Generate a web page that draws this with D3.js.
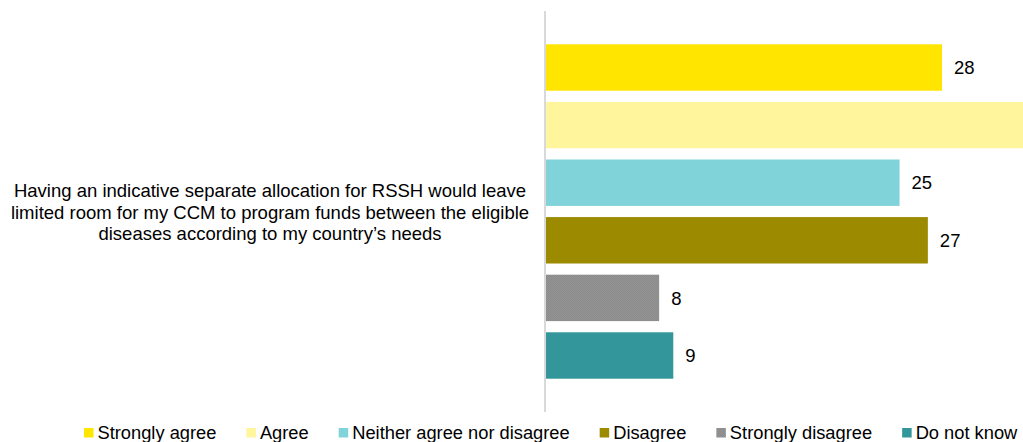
<!DOCTYPE html>
<html>
<head>
<meta charset="utf-8">
<script src="https://cdn.jsdelivr.net/npm/d3@7"></script>
<style>
  html, body { margin: 0; padding: 0; background: #ffffff; }
  svg { display: block; font-family: "Liberation Sans", Arial, sans-serif; }
</style>
</head>
<body>
<svg id="chart" width="1023" height="442"></svg>
<script>
// Survey responses for the single statement, one bar per answer
const categories = ["Strongly agree", "Agree", "Neither agree nor disagree", "Disagree", "Strongly disagree", "Do not know"];
const values = [28, 36, 25, 27, 8, 9];
const colors = ["#ffe500", "#fff59d", "#80d3d8", "#9c8a00", "#8e8e8e", "#33969a"];
const questionLines = [
  "Having an indicative separate allocation for RSSH would leave",
  "limited room for my CCM to program funds between the eligible",
  "diseases according to my country\u2019s needs"
];

const svg = d3.select("#chart");
const W = 1023, H = 442;

// Fine dotted texture for the "Strongly disagree" fill
const defs = svg.append("defs");
const pat = defs.append("pattern")
  .attr("id", "dots").attr("width", 2).attr("height", 2)
  .attr("patternUnits", "userSpaceOnUse");
pat.append("rect").attr("width", 2).attr("height", 2).attr("fill", "#959595");
pat.append("rect").attr("width", 1).attr("height", 1).attr("fill", "#8a8a8a");
pat.append("rect").attr("x", 1).attr("y", 1).attr("width", 1).attr("height", 1).attr("fill", "#8a8a8a");
const fillFor = i => i === 4 ? "url(#dots)" : colors[i];

const x = d3.scaleLinear().domain([0, 35]).range([546, 1041]);
const y = d3.scaleBand().domain(categories).range([38.7, 384.3])
  .paddingInner(0.194).paddingOuter(0.097);

// Category axis line
svg.append("line")
  .attr("x1", 545).attr("x2", 545).attr("y1", 11).attr("y2", 412)
  .attr("stroke", "#d9d9d9").attr("stroke-width", 2);

// Bars (the plot area clips at the right edge of the chart)
svg.append("g").selectAll("rect")
  .data(categories)
  .join("rect")
  .attr("x", x(0))
  .attr("y", d => y(d))
  .attr("width", (d, i) => Math.min(x(values[i]), W) - x(0))
  .attr("height", y.bandwidth())
  .attr("fill", (d, i) => fillFor(i));

// Value labels, only where they fall inside the chart area
const labelled = categories.map((c, i) => ({ c, v: values[i] }))
  .filter(d => x(d.v) + 12 < W);
svg.append("g").selectAll("text")
  .data(labelled)
  .join("text")
  .attr("x", d => x(d.v) + 12)
  .attr("y", d => y(d.c) + y.bandwidth() / 2)
  .attr("dy", "0.36em")
  .attr("font-size", 18.5)
  .attr("fill", "#000")
  .text(d => d.v);

// Statement text, centred to the left of the axis
svg.append("g").selectAll("text")
  .data(questionLines)
  .join("text")
  .attr("x", 270)
  .attr("y", (d, i) => 197 + i * 21.5)
  .attr("text-anchor", "middle")
  .attr("font-size", 18.5)
  .attr("fill", "#000")
  .text(d => d);

// Legend along the bottom
const legend = svg.append("g");
let lx = 84;
categories.forEach((c, i) => {
  legend.append("rect")
    .attr("x", lx).attr("y", 428).attr("width", 9.5).attr("height", 9.5)
    .attr("fill", fillFor(i));
  const t = legend.append("text")
    .attr("x", lx + 13.5).attr("y", 438.5)
    .attr("font-size", 18.3)
    .attr("fill", "#000")
    .text(c);
  lx += 13.5 + t.node().getComputedTextLength() + 30;
});
</script>
</body>
</html>
